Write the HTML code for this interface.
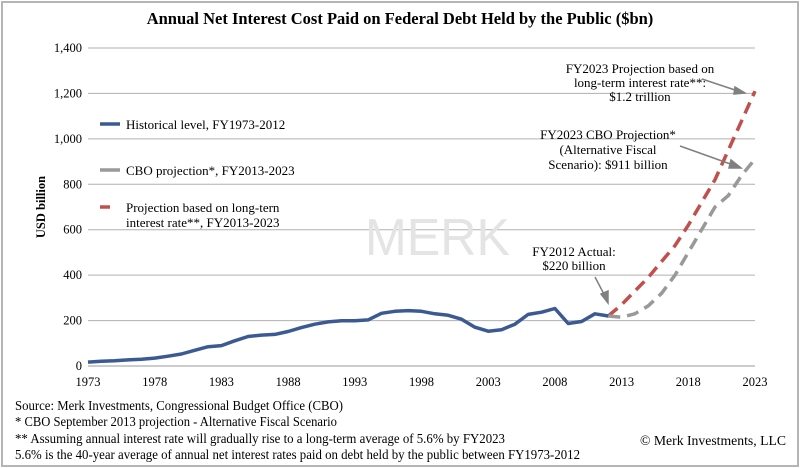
<!DOCTYPE html>
<html><head><meta charset="utf-8"><style>
html,body{margin:0;padding:0;background:#fff;}
svg{display:block;font-family:"Liberation Serif",serif;}
</style></head><body>
<svg id="chart" width="800" height="468" viewBox="0 0 800 468">
<rect x="2" y="2" width="796" height="464" fill="#fff" stroke="#b5b5b5" stroke-width="2"/>
<text x="400" y="24" text-anchor="middle" font-size="16.5" font-weight="bold">Annual Net Interest Cost Paid on Federal Debt Held by the Public ($bn)</text>
<text transform="translate(45,207) rotate(-90)" text-anchor="middle" font-size="12.5" font-weight="bold">USD billion</text>
<g id="grid"></g>
<g id="yticks"></g>
<g id="xticks"></g>
<text x="365" y="255" textLength="145" lengthAdjust="spacingAndGlyphs" font-family="Liberation Sans,sans-serif" font-size="52" fill="#e4e4e4">MERK</text>
<g id="series"></g>
<g font-size="13">
<line x1="100" y1="124" x2="120" y2="124" stroke="#3b5a94" stroke-width="3.5"/>
<text x="126" y="129">Historical level, FY1973-2012</text>
<line x1="100" y1="170" x2="120" y2="170" stroke="#999" stroke-width="3.5"/>
<text x="126" y="175">CBO projection*, FY2013-2023</text>
<line x1="100" y1="207" x2="110" y2="207" stroke="#c0504d" stroke-width="3.5"/>
<text x="126" y="212">Projection based on long-tern</text>
<text x="126" y="227">interest rate**, FY2013-2023</text>
</g>
<g font-size="13" text-anchor="middle" fill="#000">
<text x="640" y="73">FY2023 Projection based on</text>
<text x="640" y="87">long-term interest rate**:</text>
<text x="640" y="101">$1.2 trillion</text>
<text x="608" y="139">FY2023 CBO Projection*</text>
<text x="608" y="154">(Alternative Fiscal</text>
<text x="608" y="169">Scenario): $911 billion</text>
<text x="574" y="256">FY2012 Actual:</text>
<text x="574" y="270">$220 billion</text>
</g>
<g stroke="#808080" stroke-width="1.5" fill="#808080">
<line x1="702" y1="79" x2="741" y2="92"/><polygon points="745,93 735,87 734,94"/>
<line x1="680" y1="146" x2="736" y2="166"/><polygon points="741,168 731,160 729,168"/>
<line x1="595" y1="277" x2="606" y2="298"/><polygon points="608,303 601,294 608,291"/>
</g>
<g font-size="13.5">
<text x="15" y="410" textLength="328" lengthAdjust="spacingAndGlyphs">Source: Merk Investments, Congressional Budget Office (CBO)</text>
<text x="15" y="426" textLength="322" lengthAdjust="spacingAndGlyphs">* CBO September 2013 projection - Alternative Fiscal Scenario</text>
<text x="15" y="443" textLength="490" lengthAdjust="spacingAndGlyphs">** Assuming annual interest rate will gradually rise to a long-term average of 5.6% by FY2023</text>
<text x="15" y="459" textLength="565" lengthAdjust="spacingAndGlyphs">5.6% is the 40-year average of annual net interest rates paid on debt held by the public between FY1973-2012</text>
<text x="640" y="445" textLength="146" lengthAdjust="spacingAndGlyphs">© Merk Investments, LLC</text>
</g>
</svg>
<script>
const years = [1973,1974,1975,1976,1977,1978,1979,1980,1981,1982,1983,1984,1985,1986,1987,1988,1989,1990,1991,1992,1993,1994,1995,1996,1997,1998,1999,2000,2001,2002,2003,2004,2005,2006,2007,2008,2009,2010,2011,2012];
const historical = [17,21,23,27,30,35,43,53,69,85,90,111,130,136,139,152,169,184,194,199,199,203,232,241,244,241,230,223,206,171,153,160,184,227,237,253,187,196,230,220];
const projYears = [2012,2013,2014,2015,2016,2017,2018,2019,2020,2021,2022,2023];
const cbo = [220,215,230,265,320,400,500,600,700,750,840,911];
const longTerm = [220,270,330,390,460,530,620,720,820,950,1080,1210];
const yTicks = [0,200,400,600,800,1000,1200,1400];
const xTicks = [1973,1978,1983,1988,1993,1998,2003,2008,2013,2018,2023];

const NS='http://www.w3.org/2000/svg';
const X0=88,X1=755,Y0=366,Y1=48;
const xs=y=>X0+(y-1973)/(2023-1973)*(X1-X0);
const ys=v=>Y0-v/1400*(Y0-Y1);
function mk(tag,attrs,parent){const e=document.createElementNS(NS,tag);for(const k in attrs)e.setAttribute(k,attrs[k]);parent.appendChild(e);return e;}
const grid=document.getElementById('grid'),yt=document.getElementById('yticks'),xt=document.getElementById('xticks'),ser=document.getElementById('series');
yTicks.forEach(v=>{
  const l=mk('line',{x1:X0,x2:X1,y1:ys(v),y2:ys(v),stroke:v===0?'#999':'#b0b0b0','stroke-width':1},grid);
  
  
  const t=mk('text',{x:X0-6,y:ys(v)+4,'text-anchor':'end','font-size':12.5},yt);
  t.textContent=v.toLocaleString('en-US');
  
  
});
xTicks.forEach(v=>{
  const t=mk('text',{x:xs(v),y:386,'text-anchor':'middle','font-size':12.5},xt);
  t.textContent=v;
  
  
});
function path(xa,va){return xa.map((x,i)=>(i?'L':'M')+xs(x).toFixed(1)+','+ys(va[i]).toFixed(1)).join('');}
const p1=mk('path',{d:path(projYears,longTerm),fill:'none',stroke:'#c0504d','stroke-width':3.5,'stroke-dasharray':'12,7'},ser);


const p2=mk('path',{d:path(projYears,cbo),fill:'none',stroke:'#999','stroke-width':3.5,'stroke-dasharray':'12,7'},ser);


const p3=mk('path',{d:path(years,historical),fill:'none',stroke:'#3b5a94','stroke-width':3.5,'stroke-linejoin':'round'},ser);


</script>
</body></html>
